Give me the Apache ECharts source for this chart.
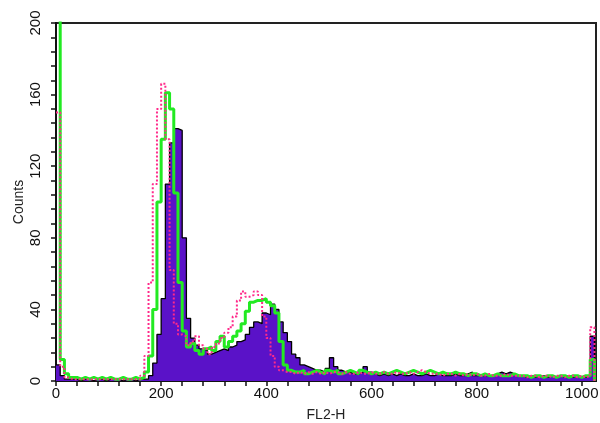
<!DOCTYPE html>
<html>
<head>
<meta charset="utf-8">
<script src="https://cdn.jsdelivr.net/npm/echarts@6/dist/echarts.min.js"></script>
<style>html,body{margin:0;padding:0;background:#fff;}#c{width:600px;height:423px;}</style>
</head>
<body>
<div id="c"></div>
<script>
// bin start channels (FL2-H), step 8
var channels = [];
for (var k = 0; k <= 1024; k += 8) channels.push(k);

var sample1 = [ // filled violet histogram with black outline
  9,3,1,1,1,0,1,1,0,1,
  1,0,1,1,1,0,1,1,0,1,
  1,1,3,10,26,46,110,133,141,140,
  80,35,24,20,18,17,15,16,17,18,
  17,19,20,22,23,26,30,33,32,38,
  37,43,40,33,27,22,15,13,9,8,
  7,6,6,5,7,13,8,6,5,5,
  4,4,5,8,5,4,3,4,3,4,
  3,4,3,3,4,3,3,4,3,3,
  4,3,3,3,4,3,3,4,5,3,
  3,3,3,3,4,5,4,5,4,3,
  3,2,3,2,3,3,2,3,2,3,
  2,3,2,3,2,2,3,25,
  0
];
var sample2 = [ // green line
  260,12,4,2,2,1,2,1,2,1,
  2,1,2,1,1,2,1,1,2,1,
  2,5,14,40,100,135,161,152,105,55,
  28,19,21,17,15,18,19,17,22,25,
  19,22,25,28,32,39,44,45,45,46,
  44,42,38,22,9,6,5,5,6,4,
  5,6,5,4,6,5,6,4,5,6,
  5,4,6,5,4,5,4,5,4,5,
  6,5,4,5,6,5,4,5,6,5,
  4,5,4,4,5,4,4,3,4,4,
  3,4,3,3,4,3,3,3,4,3,
  3,3,2,3,3,2,3,3,2,3,
  3,2,3,3,2,3,3,12,
  0
];
var sample3 = [ // magenta dotted line
  150,8,2,1,1,1,1,1,1,1,
  1,1,1,1,1,1,1,1,1,1,
  3,14,55,110,152,166,135,62,32,26,
  25,20,22,25,20,18,15,19,21,24,
  27,30,36,45,50,47,48,50,48,36,
  24,14,8,6,5,5,4,5,4,5,
  4,5,4,5,4,5,5,4,5,4,
  4,5,4,4,5,4,4,5,4,4,
  5,4,4,5,4,5,6,5,4,4,
  4,3,4,4,3,4,3,4,3,4,
  3,3,4,3,3,3,4,3,3,3,
  3,2,3,3,2,3,3,2,3,3,
  2,3,3,2,3,2,3,30,
  0
];
var xLabels = [0,200,400,600,800,1000];
var yLabels = [0,40,80,120,160,200];
var xTicks = []; for (var a = 0; a <= 1000; a += 40) xTicks.push(a);
var yTicks = []; for (var b = 0; b <= 200; b += 8) yTicks.push(b);

function pairs(v){ return channels.map(function(c,i){ return [c, v[i]]; }); }

var chart = echarts.init(document.getElementById('c'), null, {renderer:'canvas'});
var font = 'Liberation Sans, Arial, sans-serif';
chart.setOption({
  animation: false,
  backgroundColor: '#fff',
  grid: {left: 56, right: 4, top: 23, bottom: 42, show: true, borderColor: '#222', borderWidth: 2,
         containLabel: false, outerBoundsMode: 'none'},
  xAxis: {
    type: 'value', min: 0, max: 1027,
    name: 'FL2-H', nameLocation: 'middle', nameGap: 27, nameMoveOverlap: false,
    nameTextStyle: {fontFamily: font, fontSize: 14, color: '#222'},
    axisLine: {show: true, lineStyle: {color: '#111', width: 2}},
    axisTick: {show: true, inside: false, length: 5, customValues: xTicks, lineStyle: {color: '#111', width: 1.5}},
    axisLabel: {customValues: xLabels, formatter: function(v){ return String(v); },
      fontFamily: font, fontSize: 15, color: '#111', margin: 5},
    splitLine: {show: false}
  },
  yAxis: {
    type: 'value', min: 0, max: 200,
    name: 'Counts', nameLocation: 'middle', nameGap: 30, nameMoveOverlap: false,
    nameTextStyle: {fontFamily: font, fontSize: 14, color: '#222'},
    axisLine: {show: true, lineStyle: {color: '#111', width: 2}},
    axisTick: {show: true, length: 5, customValues: yTicks, lineStyle: {color: '#111', width: 1.5}},
    axisLabel: {customValues: yLabels, formatter: function(v){ return String(v); },
      rotate: 90, fontFamily: font, fontSize: 15, color: '#111', margin: 13},
    splitLine: {show: false}
  },
  series: [
    {type: 'line', step: 'end', data: pairs(sample1), symbol: 'none', z: 2,
     lineStyle: {color: '#000', width: 1.3}, areaStyle: {color: '#5a12c8', opacity: 1}},
    {type: 'line', step: 'end', data: pairs(sample2), symbol: 'none', z: 3,
     lineStyle: {color: '#22ea22', width: 3}},
    {type: 'line', step: 'end', data: pairs(sample3), symbol: 'none', z: 4,
     lineStyle: {color: '#ff2a8a', width: 2, type: [2, 2]}}
  ]
});
</script>
</body>
</html>
